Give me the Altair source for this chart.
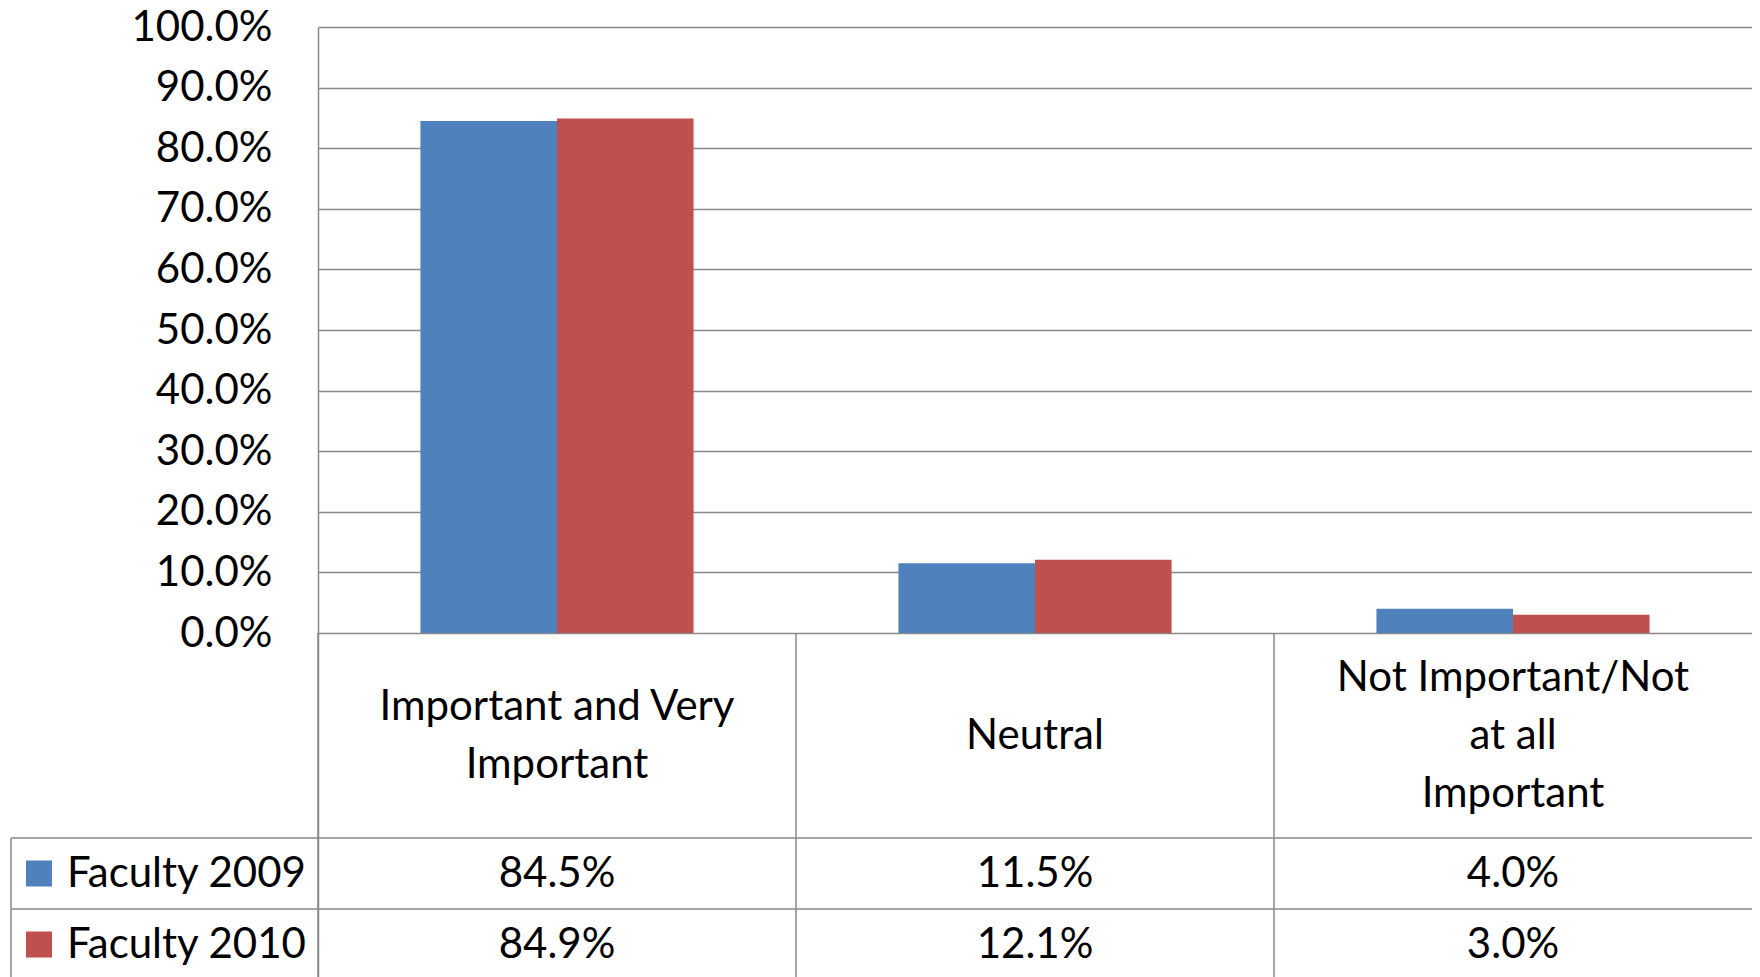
import altair as alt
import pandas as pd

# ---- data ----
categories = ["Important and Very Important", "Neutral", "Not Important/Not at all Important"]
header_lines = [["Important and Very", "Important"], ["Neutral"], ["Not Important/Not", "at all", "Important"]]
series = ["Faculty 2009", "Faculty 2010"]
faculty_2009 = [0.845, 0.115, 0.040]
faculty_2010 = [0.849, 0.121, 0.030]
y_ticks = [0.0, 0.1, 0.2, 0.3, 0.4, 0.5, 0.6, 0.7, 0.8, 0.9, 1.0]

# ---- layout / style ----
colors = ["#4F81BD", "#C0504D"]
FONT = "Lato"
FS = 42
LINE = "#898989"
W = 1434
H = 950
PX = 606.0                     # pixels per 100 %
Y_BOTTOM = -(H - PX) / PX
HEADER_H = 205 / PX
ROW_H = 71 / PX
LINE_H = 58 / PX
LEFT_EDGE = -307               # legend column left border, px from plot left

long_rows = []
for si, (s, vals) in enumerate(zip(series, [faculty_2009, faculty_2010])):
    for c, v in zip(categories, vals):
        long_rows.append({"category": c, "series": s, "value": v, "row": si})
df = pd.DataFrame(long_rows)
df["row_y"] = -(HEADER_H + ROW_H * (df["row"] + 0.5))

hdr_rows = []
for c, lines in zip(categories, header_lines):
    n = len(lines)
    for i, t in enumerate(lines):
        hdr_rows.append({"category": c, "line": t,
                         "ly": -HEADER_H / 2 + ((n - 1) / 2 - i) * LINE_H})
hdr = pd.DataFrame(hdr_rows)
cats = pd.DataFrame({"category": categories})

leg = pd.DataFrame({"series": series, "row": list(range(len(series)))})
leg["row_y"] = -(HEADER_H + ROW_H * (leg["row"] + 0.5))
hlines = pd.DataFrame({"y": [-HEADER_H - ROW_H * i for i in range(len(series))]})

x_scale = alt.Scale(domain=categories, paddingInner=0, paddingOuter=0)
y_scale = alt.Scale(domain=[Y_BOTTOM, 1.0], nice=False, zero=False)
color_scale = alt.Scale(domain=series, range=colors)

y_axis = alt.Axis(values=y_ticks, format=".1%", title=None, ticks=False,
                  labelFont=FONT, labelFontSize=FS, labelColor="#000000",
                  labelPadding=46, grid=True, gridColor=LINE, gridWidth=1.5,
                  domainColor=LINE, domainWidth=1.5, labelBaseline="middle")

bars = alt.Chart(df).mark_bar().encode(
    x=alt.X("category:N", scale=x_scale, sort=categories, axis=None),
    xOffset=alt.XOffset("series:N", sort=series,
                        scale=alt.Scale(paddingOuter=0.75, paddingInner=0)),
    y=alt.Y("value:Q", scale=y_scale, axis=y_axis),
    color=alt.Color("series:N", scale=color_scale, legend=None),
)

hrules = alt.Chart(hlines).mark_rule(color=LINE, strokeWidth=1.5).encode(
    y=alt.Y("y:Q", scale=y_scale, axis=y_axis),
    x=alt.value(LEFT_EDGE),
    x2=alt.value(W),
)

vrules = alt.Chart(cats).mark_rule(color=LINE, strokeWidth=1.5).encode(
    x=alt.X("category:N", scale=x_scale, sort=categories, axis=None, bandPosition=0),
    y=alt.datum(0),
    y2=alt.datum(Y_BOTTOM),
)

left_rule = alt.Chart(leg.head(1)).mark_rule(color=LINE, strokeWidth=1.5).encode(
    x=alt.value(LEFT_EDGE),
    y=alt.datum(-HEADER_H),
    y2=alt.datum(Y_BOTTOM),
)

header_text = alt.Chart(hdr).mark_text(
    font=FONT, fontSize=FS, align="center", baseline="middle", color="#000000"
).encode(
    x=alt.X("category:N", scale=x_scale, sort=categories, axis=None),
    y=alt.Y("ly:Q", scale=y_scale, axis=y_axis),
    text="line:N",
)

value_text = alt.Chart(df).mark_text(
    font=FONT, fontSize=FS, align="center", baseline="middle", color="#000000"
).encode(
    x=alt.X("category:N", scale=x_scale, sort=categories, axis=None),
    y=alt.Y("row_y:Q", scale=y_scale, axis=y_axis),
    text=alt.Text("value:Q", format=".1%"),
)

leg_sq = alt.Chart(leg).mark_square(size=676, opacity=1).encode(
    x=alt.value(-279),
    y=alt.Y("row_y:Q", scale=y_scale, axis=y_axis),
    color=alt.Color("series:N", scale=color_scale, legend=None),
)

leg_txt = alt.Chart(leg).mark_text(
    font=FONT, fontSize=FS, align="left", baseline="middle", color="#000000"
).encode(
    x=alt.value(-251),
    y=alt.Y("row_y:Q", scale=y_scale, axis=y_axis),
    text="series:N",
)

chart = alt.layer(
    bars, hrules, vrules, left_rule, header_text, value_text, leg_sq, leg_txt
).properties(
    width=W, height=H,
    padding={"left": 310, "top": 19, "right": 0, "bottom": 0},
    autosize=alt.AutoSizeParams(type="none"),
    background="#ffffff",
).configure_view(stroke=None)

chart.save("out.html", embed_options={"renderer": "svg", "actions": False})
